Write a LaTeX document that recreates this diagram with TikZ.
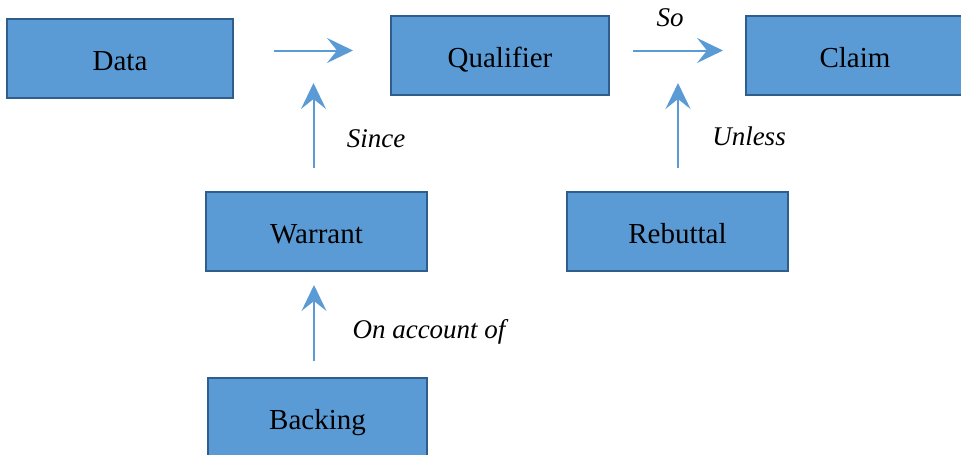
\documentclass[tikz,border=0pt]{standalone}
\usepackage{fontspec}
\setmainfont{Liberation Serif}
\usetikzlibrary{positioning,arrows.meta,calc}

\definecolor{boxblue}{HTML}{5B9BD5}
\definecolor{boxedge}{HTML}{2F5D8C}

\begin{document}
\begin{tikzpicture}[
  x=1pt, y=-1pt,
  font=\fontsize{29pt}{34pt}\selectfont,
  box/.style={
    rectangle,
    draw=boxedge,
    line width=2.4pt,
    fill=boxblue,
    inner sep=0pt,
    minimum height=79pt,
    text height=26pt,
    text depth=3pt,
    align=center,
  },
  flow/.style={-{Stealth[length=26pt, width=25pt, inset=10pt]}, line width=2pt, draw=boxblue},
  lbl/.style={font=\fontsize{27pt}{32pt}\selectfont\itshape},
]
  \clip (0,0) rectangle (961,455);

  % --- Top row: data, qualifier, claim ---
  \node[box, minimum width=226pt] (data) at (120,58.5) {Data};
  \node[box, minimum width=218pt] (qual) at (500,55.5) {Qualifier};
  \node[box, minimum width=218pt, right=134.6pt of qual] (claim) {Claim};

  % --- Middle row ---
  \node[box, minimum width=221pt] (warrant) at (316.5,231.5) {Warrant};
  \node[box, minimum width=221pt, right=137.6pt of warrant] (rebut) {Rebuttal};

  % --- Bottom ---
  \node[box, minimum width=219pt, minimum height=80pt] (back) at (317.5,418) {Backing};

  % --- Arrow tips (the arrows stop short of the boxes) ---
  \coordinate (dtip) at (353,50.5);
  \coordinate (stip) at (723,50.5);
  \coordinate (wtip) at (313.5,83);
  \coordinate (rtip) at (678,83);
  \coordinate (btip) at (314,285);

  \draw[flow, shorten <=40pt] (data.east |- dtip) -- (dtip);
  \draw[flow, shorten <=23pt] (qual.east |- stip) -- (stip);
  \draw[flow, shorten <=23pt] (warrant.north -| wtip) -- (wtip);
  \draw[flow, shorten <=23pt] (rebut.north -| rtip) -- (rtip);
  \draw[flow, shorten <=16pt] (back.north -| btip) -- (btip);

  % --- Labels ---
  \node[lbl] (so) at (670,18) {So};
  \node[lbl] (since) at (376,139) {Since};
  \node[lbl] (unless) at (749,136) {Unless};
  \node[lbl] (onacc) at (429,332) {On account of};

\end{tikzpicture}
\end{document}
